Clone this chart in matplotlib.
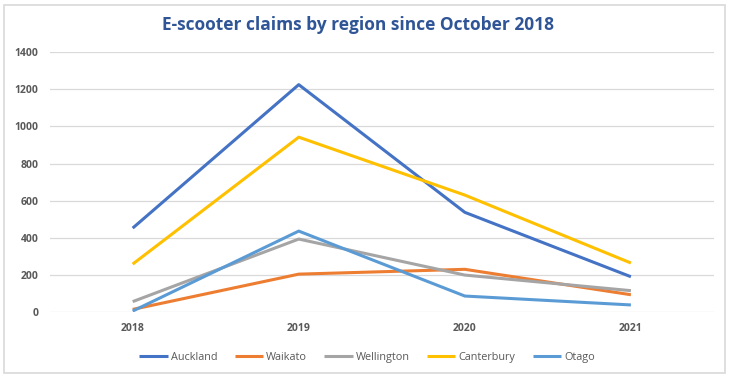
import matplotlib.pyplot as plt
from matplotlib.patches import Rectangle

years = ["2018", "2019", "2020", "2021"]
auckland = [452, 1225, 537, 190]
waikato = [14, 204, 230, 93]
wellington = [56, 393, 199, 115]
canterbury = [258, 942, 630, 264]
otago = [5, 436, 86, 38]

series = [
    ("Auckland", auckland, "#4472C4"),
    ("Waikato", waikato, "#ED7D31"),
    ("Wellington", wellington, "#A5A5A5"),
    ("Canterbury", canterbury, "#FFC000"),
    ("Otago", otago, "#5B9BD5"),
]

plt.rcParams["font.family"] = ["Open Sans", "DejaVu Sans"]

fig = plt.figure(figsize=(7.3, 3.78), dpi=100)
fig.patches.append(Rectangle((0.005, 0.013), 0.988, 0.975, transform=fig.transFigure,
                             fill=False, edgecolor="#D9D9D9", linewidth=1.2))
ax = fig.add_axes([0.068, 0.1746, 0.91, 0.6874])

x = list(range(len(years)))
for name, values, color in series:
    ax.plot(x, values, color=color, linewidth=2.2, label=name, solid_capstyle="butt")

ax.set_xlim(-0.5, 3.5)
ax.set_ylim(0, 1400)
ax.set_yticks(range(0, 1401, 200))
ax.set_xticks(x, years)
ax.grid(axis="y", color="#D9D9D9", linewidth=0.9)
ax.set_axisbelow(True)
for s in ax.spines.values():
    s.set_visible(False)
ax.tick_params(length=0, labelsize=7.5, labelcolor="#595959", pad=8)
for lab in ax.get_xticklabels() + ax.get_yticklabels():
    lab.set_fontweight("bold")

fig.text(0.49, 0.935, "E-scooter claims by region since October 2018", ha="center", va="center",
         fontsize=12.5, fontweight="bold", color="#2F5597")

ax.legend(loc="center", bbox_to_anchor=(0.478, -0.175), ncol=5, frameon=False,
          fontsize=7.8, labelcolor="#595959", handlelength=2.6, handletextpad=0.3,
          columnspacing=1.6)

fig.savefig("out.png", dpi=100)
